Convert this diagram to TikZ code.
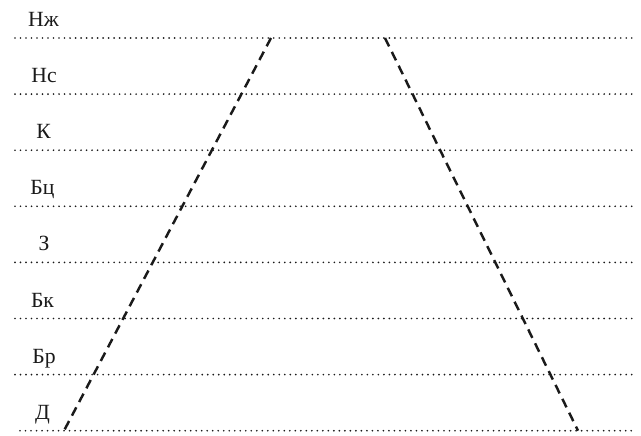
\documentclass[tikz,border=0pt]{standalone}
\usepackage{fontspec}
\setmainfont{Liberation Serif}
\usetikzlibrary{calc}
\definecolor{ink}{HTML}{1A1A1A}
\newcommand{\lab}{\fontsize{18.5}{22}\selectfont}
\tikzset{
  level/.style={ink,line width=1.6pt,line cap=round,dash pattern=on 0pt off 4.7pt},
  bound/.style={ink,line width=2.1pt,dash pattern=on 8pt off 5.2pt},
  layer/.style={anchor=base,inner sep=0,text=ink,font=\lab}
}
\begin{document}
\begin{tikzpicture}[x=0.3mm,y=-0.3mm]
\useasboundingbox (0,0) rectangle (641,436);
% levels
\draw[level] (15,38.0) -- (636,38.0);
\node[layer] (nzh) at (43.5,26.5) {Нж};
\draw[level] (15,94.1) -- (636,94.1);
\node[layer] (ns) at (44,82.6) {Нс};
\draw[level] (15,150.2) -- (636,150.2);
\node[layer] (k) at (43.5,138.7) {К};
\draw[level] (15,206.3) -- (636,206.3);
\node[layer] (bts) at (42.5,194.8) {Бц};
\draw[level] (15,262.4) -- (636,262.4);
\node[layer] (z) at (44,250.9) {З};
\draw[level] (15,318.5) -- (636,318.5);
\node[layer] (bk) at (42.5,307.0) {Бк};
\draw[level] (15,374.6) -- (636,374.6);
\node[layer] (br) at (44,363.1) {Бр};
\draw[level] (20,430.7) -- (636,430.7);
\node[layer] (d) at (42.5,419.2) {Д};
% bounds
\coordinate (lt) at (271,38.0);
\coordinate (lb) at (64,430.7);
\coordinate (rt) at (385,38.0);
\coordinate (rb) at (578,430.7);
\draw[bound] (lt) -- (lb);
\draw[bound] (rt) -- (rb);
\end{tikzpicture}
\end{document}
